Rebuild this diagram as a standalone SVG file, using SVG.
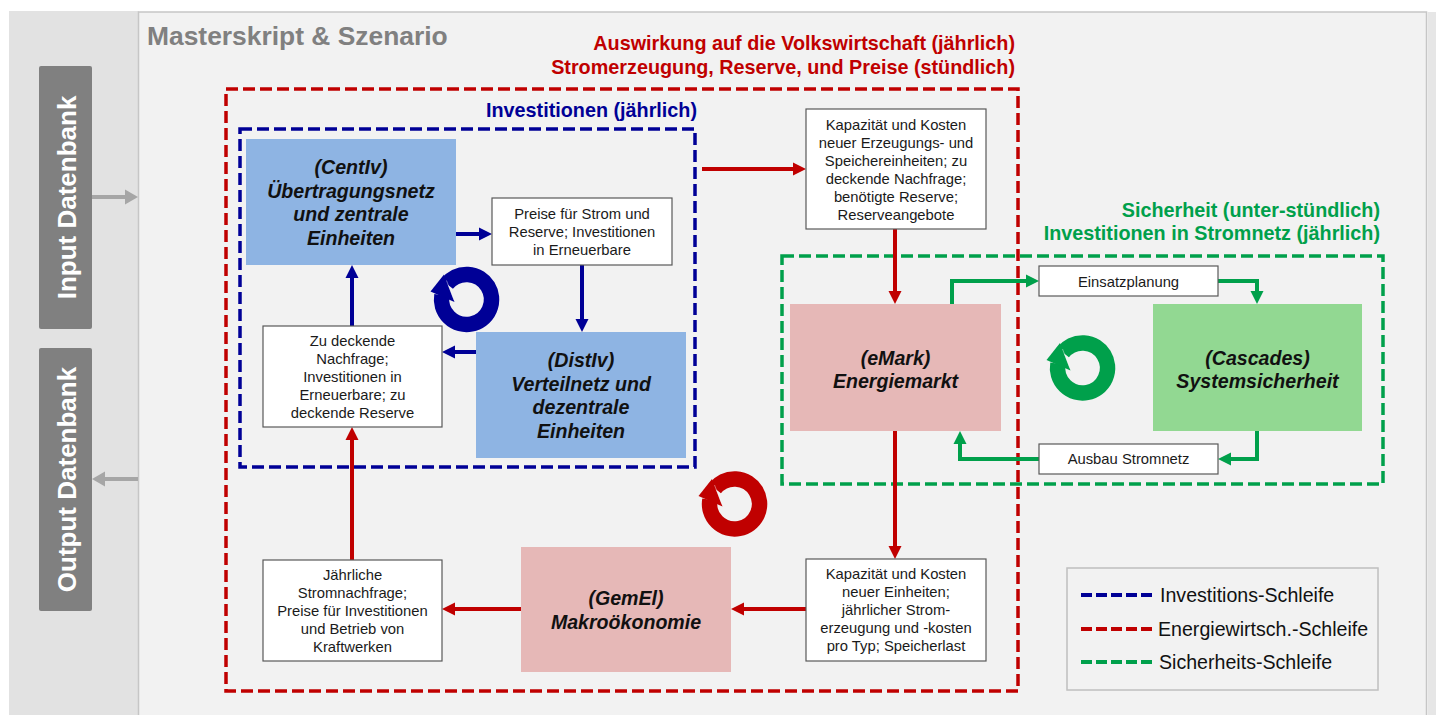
<svg xmlns="http://www.w3.org/2000/svg" xmlns:xlink="http://www.w3.org/1999/xlink" width="1436" height="715" viewBox="0 0 1436 715">
<style>
text{font-family:"Liberation Sans",Arial,sans-serif}
.sm{font-size:14.8px;fill:#1a1a1a;text-anchor:middle}
.nd{font-size:19.6px;font-weight:bold;font-style:italic;fill:#111;text-anchor:middle}
.box{fill:#fff;stroke:#595959;stroke-width:1.2}
.dash{fill:none;stroke-width:3.5;stroke-dasharray:12 5}
.cb{fill:none;stroke:#000096;stroke-width:4}
.cr{fill:none;stroke:#c00000;stroke-width:4}
.cg{fill:none;stroke:#00a04b;stroke-width:4}
.cgr{fill:none;stroke:#a6a6a6;stroke-width:4}
.ttl{font-size:19.8px;font-weight:bold;text-anchor:end}
.lg{font-size:19.6px;fill:#111}
</style>
<defs>
<marker id="aB" markerUnits="userSpaceOnUse" markerWidth="14" markerHeight="14" refX="5" refY="7" orient="auto"><path d="M0,0.5 L13,7 L0,13.5 z" fill="#000096"/></marker>
<marker id="aR" markerUnits="userSpaceOnUse" markerWidth="14" markerHeight="14" refX="5" refY="7" orient="auto"><path d="M0,0.5 L13,7 L0,13.5 z" fill="#c00000"/></marker>
<marker id="aG" markerUnits="userSpaceOnUse" markerWidth="14" markerHeight="14" refX="5" refY="7" orient="auto"><path d="M0,0.5 L13,7 L0,13.5 z" fill="#00a04b"/></marker>
<marker id="aGr" markerUnits="userSpaceOnUse" markerWidth="14" markerHeight="16" refX="5" refY="8" orient="auto"><path d="M0,0.5 L13,8 L0,15.5 z" fill="#a6a6a6"/></marker>
<g id="circ">
<path d="M-24.6,-4.3 A25,25 0 1 0 -19.7,-15.4" fill="none" stroke="currentColor" stroke-width="15.5"/>
<polygon points="-36,-8 -22.5,-25 -12,2.5" fill="currentColor"/>
<line x1="-20" y1="-19" x2="-12.5" y2="0.5" stroke="#ffffff" stroke-opacity="0.45" stroke-width="0.9"/>
</g>
</defs>

<rect x="0" y="0" width="1436" height="715" fill="#ffffff"/>
<rect x="9" y="11" width="130" height="710" fill="#e2e2e2"/>
<rect x="138.5" y="12" width="1288" height="710" fill="#f2f2f2" stroke="#c6c6c6" stroke-width="1.5"/>
<rect x="1427.5" y="12" width="9" height="710" fill="#e6e6e6"/>

<g id="input-db">
<rect x="39" y="66" width="53" height="263" rx="2" fill="#808080"/>
<text transform="translate(76,197.5) rotate(-90)" text-anchor="middle" font-size="26" font-weight="bold" fill="#ffffff">Input Datenbank</text>
</g>
<g id="output-db">
<rect x="39" y="348" width="53" height="263" rx="2" fill="#808080"/>
<text transform="translate(76,479.5) rotate(-90)" text-anchor="middle" font-size="26" font-weight="bold" fill="#ffffff">Output Datenbank</text>
</g>

<text x="147" y="45" font-size="26.4" font-weight="bold" fill="#808080">Masterskript &amp; Szenario</text>

<g id="loops">
<rect x="226" y="89" width="792" height="602" class="dash" stroke="#c00000"/>
<rect x="240" y="129" width="455" height="338" class="dash" stroke="#000096"/>
<rect x="782" y="256" width="601" height="228" class="dash" stroke="#00a04b"/>
<text x="1015" y="50" class="ttl" fill="#c00000">Auswirkung auf die Volkswirtschaft (jährlich)</text>
<text x="1015" y="74" class="ttl" fill="#c00000">Stromerzeugung, Reserve, und Preise (stündlich)</text>
<text x="697" y="117" class="ttl" fill="#000096">Investitionen (jährlich)</text>
<text x="1380" y="217" class="ttl" fill="#00a04b">Sicherheit (unter-stündlich)</text>
<text x="1380" y="240" class="ttl" fill="#00a04b">Investitionen in Stromnetz (jährlich)</text>
</g>

<g id="cycle-icons">
<use xlink:href="#circ" href="#circ" transform="translate(466.5,299.5)" style="color:#000096"/>
<use xlink:href="#circ" href="#circ" transform="translate(734.5,504)" style="color:#c00000"/>
<use xlink:href="#circ" href="#circ" transform="translate(1082.5,368)" style="color:#00a04b"/>
</g>

<g id="connectors">
<line x1="456" y1="234" x2="484" y2="234" class="cb" marker-end="url(#aB)"/>
<line x1="582" y1="265" x2="582" y2="324" class="cb" marker-end="url(#aB)"/>
<line x1="476" y1="352" x2="450" y2="352" class="cb" marker-end="url(#aB)"/>
<line x1="352" y1="326" x2="352" y2="273" class="cb" marker-end="url(#aB)"/>
<line x1="702" y1="169" x2="798" y2="169" class="cr" marker-end="url(#aR)"/>
<line x1="895" y1="229" x2="895" y2="296" class="cr" marker-end="url(#aR)"/>
<line x1="895" y1="431" x2="895" y2="551" class="cr" marker-end="url(#aR)"/>
<line x1="806" y1="609" x2="739" y2="609" class="cr" marker-end="url(#aR)"/>
<line x1="521" y1="609" x2="450" y2="609" class="cr" marker-end="url(#aR)"/>
<line x1="352" y1="560" x2="352" y2="435" class="cr" marker-end="url(#aR)"/>
<polyline points="952,304 952,281 1031,281" class="cg" marker-end="url(#aG)"/>
<polyline points="1218,281 1257,281 1257,296" class="cg" marker-end="url(#aG)"/>
<polyline points="1257,431 1257,459 1226,459" class="cg" marker-end="url(#aG)"/>
<polyline points="1039,459 960,459 960,439" class="cg" marker-end="url(#aG)"/>
<line x1="92" y1="197" x2="130" y2="197" class="cgr" marker-end="url(#aGr)"/>
<line x1="138" y1="479" x2="100" y2="479" class="cgr" marker-end="url(#aGr)"/>
</g>

<g id="centiv">
<rect x="246" y="139" width="210" height="126" fill="#8eb4e3"/>
<text class="nd" x="351" y="173.5">(CentIv)</text>
<text class="nd" x="351" y="197.5">Übertragungsnetz</text>
<text class="nd" x="351" y="221">und zentrale</text>
<text class="nd" x="351" y="245">Einheiten</text>
</g>
<g id="preise">
<rect class="box" x="492" y="198" width="180" height="67"/>
<text class="sm" x="582" y="219">Preise für Strom und</text>
<text class="sm" x="582" y="237">Reserve; Investitionen</text>
<text class="sm" x="582" y="255">in Erneuerbare</text>
</g>
<g id="distiv">
<rect x="476" y="332" width="210" height="126" fill="#8eb4e3"/>
<text class="nd" x="581" y="366.5">(DistIv)</text>
<text class="nd" x="581" y="390.5">Verteilnetz und</text>
<text class="nd" x="581" y="414">dezentrale</text>
<text class="nd" x="581" y="438">Einheiten</text>
</g>
<g id="zu-deckende">
<rect class="box" x="263" y="326" width="179" height="101"/>
<text class="sm" x="352.5" y="346">Zu deckende</text>
<text class="sm" x="352.5" y="364">Nachfrage;</text>
<text class="sm" x="352.5" y="382">Investitionen in</text>
<text class="sm" x="352.5" y="400">Erneuerbare; zu</text>
<text class="sm" x="352.5" y="417.5">deckende Reserve</text>
</g>
<g id="kap-oben">
<rect class="box" x="806" y="109" width="180" height="120"/>
<text class="sm" x="896" y="130">Kapazität und Kosten</text>
<text class="sm" x="896" y="148">neuer Erzeugungs- und</text>
<text class="sm" x="896" y="166">Speichereinheiten; zu</text>
<text class="sm" x="896" y="184">deckende Nachfrage;</text>
<text class="sm" x="896" y="202">benötigte Reserve;</text>
<text class="sm" x="896" y="220">Reserveangebote</text>
</g>
<g id="emark">
<rect x="790" y="304" width="211" height="127" fill="#e6b8b7"/>
<text class="nd" x="895.5" y="365">(eMark)</text>
<text class="nd" x="895.5" y="388">Energiemarkt</text>
</g>
<g id="einsatzplanung">
<rect class="box" x="1039" y="266" width="179" height="30"/>
<text class="sm" x="1128.5" y="286.5">Einsatzplanung</text>
</g>
<g id="cascades">
<rect x="1153" y="304" width="209" height="127" fill="#92d892"/>
<text class="nd" x="1257.5" y="365">(Cascades)</text>
<text class="nd" x="1257.5" y="388">Systemsicherheit</text>
</g>
<g id="ausbau">
<rect class="box" x="1039" y="444" width="179" height="30"/>
<text class="sm" x="1128.5" y="464">Ausbau Stromnetz</text>
</g>
<g id="kap-unten">
<rect class="box" x="806" y="559" width="180" height="102"/>
<text class="sm" x="896" y="579">Kapazität und Kosten</text>
<text class="sm" x="896" y="597">neuer Einheiten;</text>
<text class="sm" x="896" y="615">jährlicher Strom-</text>
<text class="sm" x="896" y="633">erzeugung und -kosten</text>
<text class="sm" x="896" y="651">pro Typ; Speicherlast</text>
</g>
<g id="gemel">
<rect x="521" y="547" width="210" height="125" fill="#e6b8b7"/>
<text class="nd" x="626" y="605">(GemEl)</text>
<text class="nd" x="626" y="629">Makroökonomie</text>
</g>
<g id="jaehrliche">
<rect class="box" x="263" y="560" width="179" height="101"/>
<text class="sm" x="352.5" y="580">Jährliche</text>
<text class="sm" x="352.5" y="598">Stromnachfrage;</text>
<text class="sm" x="352.5" y="616">Preise für Investitionen</text>
<text class="sm" x="352.5" y="634">und Betrieb von</text>
<text class="sm" x="352.5" y="651.5">Kraftwerken</text>
</g>

<g id="legend">
<rect x="1067" y="568" width="311" height="122" fill="#f2f2f2" stroke="#bfbfbf" stroke-width="1.5"/>
<line x1="1081" y1="595" x2="1152" y2="595" stroke="#000096" stroke-width="4" stroke-dasharray="11 4"/>
<line x1="1081" y1="629" x2="1152" y2="629" stroke="#c00000" stroke-width="4" stroke-dasharray="11 4"/>
<line x1="1081" y1="662" x2="1152" y2="662" stroke="#00a04b" stroke-width="4" stroke-dasharray="11 4"/>
<text class="lg" x="1160" y="602">Investitions-Schleife</text>
<text class="lg" x="1158" y="636">Energiewirtsch.-Schleife</text>
<text class="lg" x="1159" y="669">Sicherheits-Schleife</text>
</g>
</svg>
